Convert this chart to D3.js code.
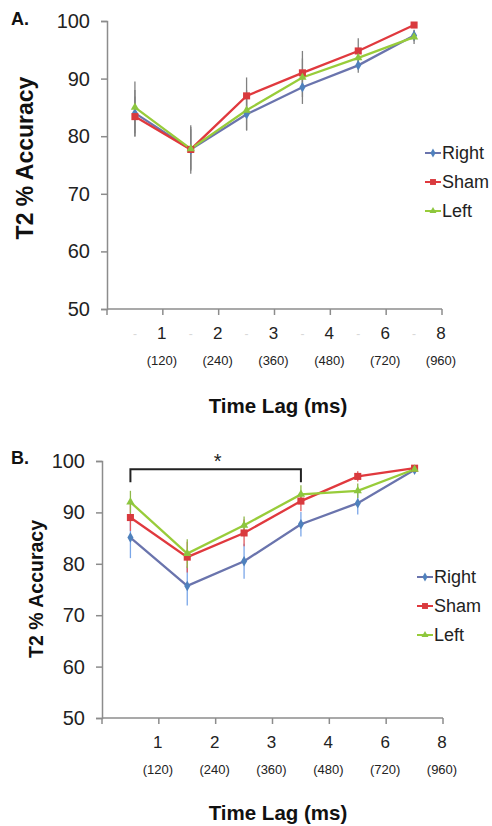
<!DOCTYPE html>
<html>
<head>
<meta charset="utf-8">
<script src="https://cdn.jsdelivr.net/npm/d3@7"></script>
<style>
  body { margin: 0; background: #fff; }
  svg text { font-family: "Liberation Sans", Arial, sans-serif; }
</style>
</head>
<body>
<div class="workspace"></div>
<script>
// categories
const lags = ['1', '2', '3', '4', '6', '8'];
const lagMs = ['(120)', '(240)', '(360)', '(480)', '(720)', '(960)'];
const yTicks = [50, 60, 70, 80, 90, 100];
const seriesNames = ['Right', 'Sham', 'Left'];

// panel A
const rightA = [84.0, 77.7, 83.8, 88.5, 92.3, 97.5];
const shamA = [83.4, 77.7, 87.0, 91.0, 94.8, 99.3];
const leftA = [85.0, 77.8, 84.5, 90.2, 93.6, 97.2];
const errRightA = [4.0, 3.5, 2.8, 1.7, 1.3, 1.0];
const errShamA = [3.5, 4.2, 3.2, 2.5, 2.2, 0.5];
const errLeftA = [4.5, 3.8, 3.5, 4.6, 1.5, 1.2];

// panel B
const rightB = [85.1, 75.7, 80.5, 87.7, 91.8, 98.3];
const shamB = [89.0, 81.3, 86.0, 92.2, 97.0, 98.6];
const leftB = [92.0, 82.0, 87.5, 93.5, 94.2, 98.4];
const errRightB = [4.0, 3.8, 3.4, 2.4, 2.2, 0.6];
const errShamB = [2.6, 3.0, 2.6, 2.0, 1.0, 0.5];
const errLeftB = [2.2, 2.8, 1.7, 1.8, 1.4, 0.5];

const colors = {
  Right: { line: '#6a74ad', mark: '#4f81bd', err: '#7aa6e8' },
  Sham: { line: '#e0393e', mark: '#d93a3e', err: '#e05a5e' },
  Left: { line: '#98cc3a', mark: '#8cc63f', err: '#8fb84a' },
};

const svg = d3.select('.workspace').append('svg')
  .attr('width', 492).attr('height', 826);

function drawPanel(p) {
  const g = svg.append('g');
  const x = d3.scaleBand().domain(lags).range([p.x0, p.x1]).padding(0);
  const y = d3.scaleLinear().domain([50, 100]).range([p.yBottom, p.yTop]);
  const cx = (i) => x(lags[i]) + x.bandwidth() / 2;

  // y axis
  const yAxis = g.append('g')
    .attr('transform', `translate(${p.x0},0)`)
    .call(d3.axisLeft(y).tickValues(yTicks).tickSize(6).tickPadding(11));
  yAxis.select('.domain').attr('stroke', '#8c8c8c').attr('stroke-width', 1.5);
  yAxis.selectAll('.tick line').attr('stroke', '#8c8c8c').attr('stroke-width', 1.5);
  yAxis.selectAll('.tick text')
    .attr('font-size', 20).attr('fill', '#222')
    .style('font-family', '"Liberation Sans", Arial, sans-serif');

  // x axis: ticks at category boundaries
  g.append('line')
    .attr('x1', p.x0).attr('x2', p.x1)
    .attr('y1', p.yBottom).attr('y2', p.yBottom)
    .attr('stroke', '#8c8c8c').attr('stroke-width', 1.5);
  const bounds = lags.map((d) => x(d)).concat([p.x1]);
  g.selectAll('.xtick').data(bounds).enter().append('line')
    .attr('x1', (d) => d).attr('x2', (d) => d)
    .attr('y1', p.yBottom).attr('y2', p.yBottom + 6)
    .attr('stroke', '#8c8c8c').attr('stroke-width', 1.5);

  // faint dashes at category centres (panel A only)
  if (p.dashes) {
    g.selectAll('.dash').data(lags).enter().append('text')
      .attr('x', (d) => x(d) + x.bandwidth() / 2)
      .attr('y', p.yBottom + 29)
      .attr('text-anchor', 'middle').attr('font-size', 12)
      .attr('fill', '#d8d8d8').text('-');
  }

  // tick labels sit at the right edge of each band
  g.selectAll('.lag').data(lags).enter().append('text')
    .attr('x', (d) => x(d) + x.bandwidth() - 1)
    .attr('y', p.yBottom + 30)
    .attr('text-anchor', 'middle').attr('font-size', 17).attr('fill', '#222')
    .text((d) => d);
  g.selectAll('.ms').data(lagMs).enter().append('text')
    .attr('x', (d, i) => x(lags[i]) + x.bandwidth() - 1)
    .attr('y', p.yBottom + 56)
    .attr('text-anchor', 'middle').attr('font-size', 13).attr('fill', '#222')
    .text((d) => d);

  // axis titles
  g.append('text')
    .attr('x', 278).attr('y', p.xTitleY)
    .attr('text-anchor', 'middle').attr('font-size', 20.5)
    .attr('font-weight', 'bold').attr('fill', '#111')
    .text('Time Lag (ms)');
  g.append('text')
    .attr('transform', `translate(${p.yTitleX},${p.yTitleMid}) rotate(-90)`)
    .attr('text-anchor', 'middle').attr('font-size', p.yTitleSize)
    .attr('font-weight', 'bold').attr('fill', '#111')
    .text('T2 % Accuracy');
  g.append('text')
    .attr('x', 11).attr('y', p.letterY)
    .attr('font-size', 18).attr('font-weight', 'bold').attr('fill', '#111')
    .text(p.letter);

  // error bars
  p.series.forEach((s) => {
    g.selectAll(null).data(s.values).enter().append('line')
      .attr('x1', (d, i) => cx(i)).attr('x2', (d, i) => cx(i))
      .attr('y1', (d, i) => y(d - s.err[i]))
      .attr('y2', (d, i) => y(d + s.err[i]))
      .attr('stroke', p.grayErr ? '#808080' : colors[s.name].err)
      .attr('stroke-width', 1.3);
  });

  // lines + markers
  const line = d3.line().x((d, i) => cx(i)).y((d) => y(d));
  p.series.forEach((s) => {
    g.append('path').datum(s.values)
      .attr('d', line).attr('fill', 'none')
      .attr('stroke', colors[s.name].line).attr('stroke-width', 2.3);
  });
  p.series.forEach((s) => {
    g.selectAll(null).data(s.values).enter().append('path')
      .attr('transform', (d, i) => `translate(${cx(i)},${y(d)})`)
      .attr('d', marker(s.name))
      .attr('fill', colors[s.name].mark);
  });

  // legend
  seriesNames.forEach((name, i) => {
    const ly = p.legendY + i * 29;
    g.append('line')
      .attr('x1', p.legendX).attr('x2', p.legendX + 16)
      .attr('y1', ly).attr('y2', ly)
      .attr('stroke', colors[name].line).attr('stroke-width', 2);
    g.append('path')
      .attr('transform', `translate(${p.legendX + 8},${ly})`)
      .attr('d', marker(name, 0.7)).attr('fill', colors[name].mark);
    g.append('text')
      .attr('x', p.legendX + 17).attr('y', ly + 6)
      .attr('font-size', 18).attr('fill', '#222').text(name);
  });

  // significance bracket
  if (p.bracket) {
    const bx0 = cx(0), bx1 = cx(3);
    const by = y(p.bracket.level);
    g.append('path')
      .attr('d', `M${bx0},${by + 13}V${by}H${bx1}V${by + 13}`)
      .attr('fill', 'none').attr('stroke', '#222').attr('stroke-width', 2);
    g.append('text')
      .attr('x', (bx0 + bx1) / 2 + 2).attr('y', by - 1)
      .attr('text-anchor', 'middle').attr('font-size', 20).attr('fill', '#222')
      .text('*');
  }
}

function marker(name, k = 1) {
  if (name === 'Right') return d3.symbol(d3.symbolDiamond, 32 * k)();
  if (name === 'Sham') return d3.symbol(d3.symbolSquare, 50 * k)();
  return d3.symbol(d3.symbolTriangle, 30 * k)();
}

drawPanel({
  letter: 'A.', letterY: 25,
  x0: 107, x1: 442, yTop: 21, yBottom: 309,
  xTitleY: 413, yTitleX: 33, yTitleMid: 158, yTitleSize: 23,
  legendX: 425, legendY: 153,
  dashes: true, grayErr: true,
  series: [
    { name: 'Right', values: rightA, err: errRightA },
    { name: 'Sham', values: shamA, err: errShamA },
    { name: 'Left', values: leftA, err: errLeftA },
  ],
});

drawPanel({
  letter: 'B.', letterY: 464,
  x0: 102, x1: 443, yTop: 461, yBottom: 718,
  xTitleY: 820, yTitleX: 43, yTitleMid: 589, yTitleSize: 19.5,
  legendX: 417, legendY: 577,
  dashes: false, grayErr: false,
  bracket: { level: 98.4 },
  series: [
    { name: 'Right', values: rightB, err: errRightB },
    { name: 'Sham', values: shamB, err: errShamB },
    { name: 'Left', values: leftB, err: errLeftB },
  ],
});
</script>
</body>
</html>
